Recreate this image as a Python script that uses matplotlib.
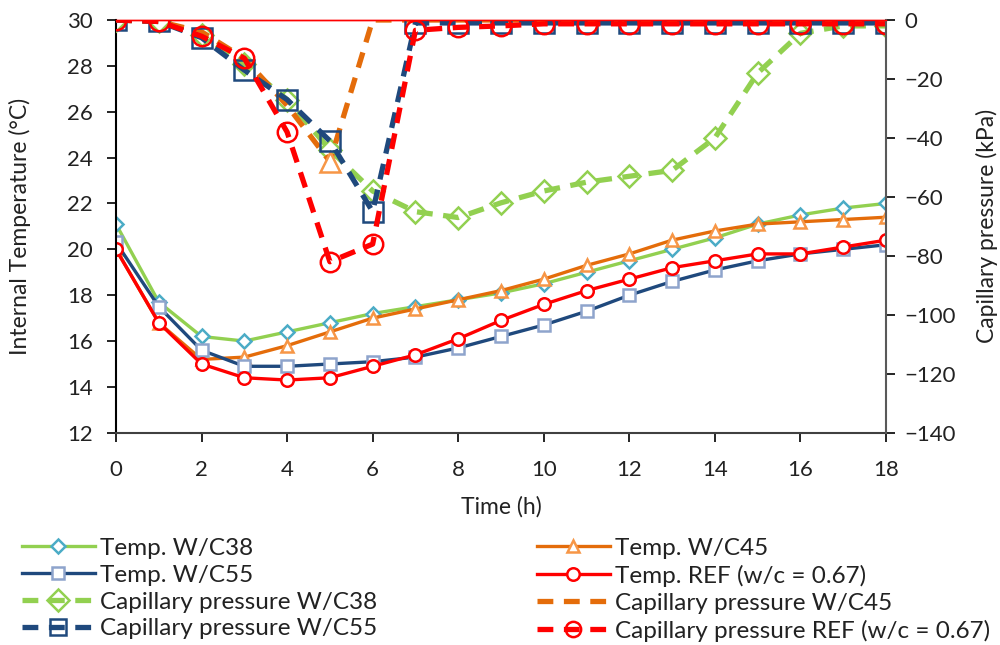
import matplotlib
matplotlib.use("Agg")
import matplotlib.pyplot as plt
from matplotlib.lines import Line2D

plt.rcParams['font.family'] = ['Lato', 'DejaVu Sans']

hours = list(range(19))

temp_wc38 = [21.1, 17.7, 16.2, 16.0, 16.4, 16.8, 17.2, 17.5, 17.8, 18.1, 18.5, 19.0, 19.5, 20.0, 20.5, 21.1, 21.5, 21.8, 22.0]
temp_wc45 = [20.0, 16.8, 15.2, 15.3, 15.8, 16.4, 17.0, 17.4, 17.8, 18.2, 18.7, 19.3, 19.8, 20.4, 20.8, 21.1, 21.2, 21.3, 21.4]
temp_wc55 = [20.3, 17.5, 15.6, 14.9, 14.9, 15.0, 15.1, 15.3, 15.7, 16.2, 16.7, 17.3, 18.0, 18.6, 19.1, 19.5, 19.8, 20.0, 20.2]
temp_ref = [20.0, 16.8, 15.0, 14.4, 14.3, 14.4, 14.9, 15.4, 16.1, 16.9, 17.6, 18.2, 18.7, 19.2, 19.5, 19.8, 19.8, 20.1, 20.4]

cap_wc38 = [0, -0.5, -5, -15, -27, -44, -58, -65, -67, -62, -58, -55, -53, -51, -40, -18, -4.5, -2, -2]
cap_wc45 = [0, -0.5, -4, -13, -29, -48, 0, 0, 0, 0, 0, 0, 0, 0, 0, 0, 0, 0, 0]
cap_wc55 = [0, -0.5, -6, -17, -27, -41, -65, -1, -1, -1, -1, -1, -1, -1, -1, -1, -1, -1, -1]
cap_ref = [0, -0.5, -5.5, -13, -38, -82, -76, -3.5, -2.5, -2, -1.3, -1.3, -1.3, -1.3, -1.3, -1.3, -1.3, -1.3, -1.3]

labels = ["Temp. W/C38", "Temp. W/C45", "Temp. W/C55", "Temp. REF (w/c = 0.67)",
          "Capillary pressure W/C38", "Capillary pressure W/C45",
          "Capillary pressure W/C55", "Capillary pressure REF (w/c = 0.67)"]

GREEN = '#92D050'
TEAL = '#4BACC6'
ORANGE = '#E46C0A'
LORANGE = '#F79646'
NAVY = '#1F497D'
LBLUE = '#8EA4CC'
RED = '#FF0000'

fig = plt.figure(figsize=(10, 6.45), dpi=100)
ax = fig.add_axes([0.116, 0.329, 0.770, 0.640])
ax2 = ax.twinx()

tkw = dict(lw=2.4, mfc='white', mew=1.8, ms=9)
h_t38, = ax.plot(hours, temp_wc38, color=GREEN, marker='D', mec=TEAL, **dict(tkw, ms=7.5))
h_t45, = ax.plot(hours, temp_wc45, color=ORANGE, marker='^', mec=LORANGE, **tkw)
h_t55, = ax.plot(hours, temp_wc55, color=NAVY, marker='s', mec=LBLUE, **dict(tkw, ms=8.5))
h_tref, = ax.plot(hours, temp_ref, color=RED, marker='o', mec=RED, **tkw)

ckw = dict(lw=3.8, ls=(0, (3, 2)), mfc='none', mew=1.8, ms=14)
h_c38, = ax2.plot(hours, cap_wc38, color=GREEN, marker='D', mec=GREEN, **dict(ckw, ms=11.5))
h_c45, = ax2.plot(hours, cap_wc45, color=ORANGE, **ckw)
ax2.plot(hours[5:6], cap_wc45[5:6], ls='none', marker='^', ms=14, mec=LORANGE, mfc='white', mew=1.8)
h_c55, = ax2.plot(hours, cap_wc55, color=NAVY, marker='s', mec=NAVY, **ckw)
h_cref, = ax2.plot(hours, cap_ref, color=RED, marker='o', mec=RED, **ckw)

ax.set_xlim(0, 18)
ax.set_ylim(12, 30)
ax2.set_ylim(-140, 0)
ax.set_xticks(range(0, 19, 2))
ax.set_yticks(range(12, 31, 2))
ax2.set_yticks(range(-140, 1, 20))

fs = 16
for a in (ax, ax2):
    a.tick_params(labelsize=fs, direction='out', length=6.5, width=1.2, color='black', labelcolor='#222222')
    a.spines['top'].set_color(RED)
    a.spines['top'].set_linewidth(1)
ax.tick_params(axis='x', pad=13)
ax.tick_params(axis='y', pad=10)
ax2.tick_params(axis='y', pad=7)
ax2.spines['right'].set_color('#595959')
ax2.spines['right'].set_linewidth(1.5)
ax.spines['left'].set_linewidth(1.5)
ax.spines['bottom'].set_linewidth(1.5)
ax.spines['bottom'].set_color('#404040')
ax2.spines['left'].set_visible(False)
ax2.spines['bottom'].set_visible(False)
ax.spines['right'].set_visible(False)

lfs = 16.5
ax.set_xlabel("Time (h)", fontsize=lfs, labelpad=12, color='#222222')
ax.set_ylabel("Internal Temperature (°C)", fontsize=lfs, labelpad=26, color='#222222')
ax2.set_ylabel("Capillary pressure (kPa)", fontsize=lfs, labelpad=14, color='#222222')

c45_proxy = Line2D([], [], color=ORANGE, lw=3.8, ls=(0, (3, 2)))
left_handles = [h_t38, h_t55, h_c38, h_c55]
left_labels = [labels[0], labels[2], labels[4], labels[6]]
right_handles = [h_t45, h_tref, c45_proxy, h_cref]
right_labels = [labels[1], labels[3], labels[5], labels[7]]

lkw = dict(frameon=False, fontsize=17.5, handlelength=3.0, handletextpad=0.2,
           labelspacing=0.24, borderaxespad=0, borderpad=0, labelcolor='#222222')
leg1 = fig.legend(left_handles, left_labels, loc='upper left', bbox_to_anchor=(0.022, 0.166), **lkw)
leg2 = fig.legend(right_handles, right_labels, loc='upper left', bbox_to_anchor=(0.537, 0.166), **lkw)
for leg in (leg1, leg2):
    for h in leg.legend_handles:
        if h.get_markersize() > 10:
            h.set_markersize(11)

fig.savefig("out.png", dpi=100)
